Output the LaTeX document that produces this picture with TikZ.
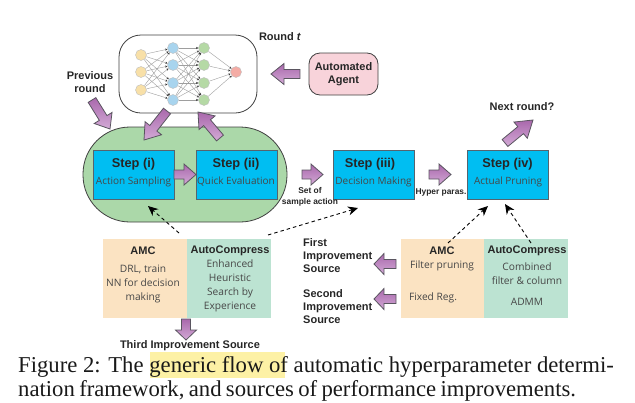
\documentclass[tikz,border=0pt]{standalone}
\usepackage{fontspec}
\setmainfont{Liberation Serif}
\setsansfont{Liberation Sans}
\newfontfamily\plainsans{Open Sans}
\usetikzlibrary{calc,arrows.meta}
\definecolor{purpA}{HTML}{A968AC}
\definecolor{purpB}{HTML}{D3AAD6}
\definecolor{arrowline}{HTML}{5A5560}
\definecolor{stepblue}{HTML}{00BEF2}
\definecolor{stepline}{HTML}{56646E}
\definecolor{pillgreen}{HTML}{ABD8A9}
\definecolor{tblorange}{HTML}{FBE3C2}
\definecolor{tblgreen}{HTML}{BCE3D2}
\definecolor{agentpink}{HTML}{F8D3DA}
\definecolor{hilite}{HTML}{FDF1A5}
\definecolor{inkdark}{HTML}{262626}
\definecolor{nnY}{HTML}{F8E0A8}
\definecolor{nnB}{HTML}{A8D4EE}
\definecolor{nnG}{HTML}{B5D9A5}
\definecolor{nnR}{HTML}{F4ACA5}
% block arrow from coordinate #2 to coordinate #3, head length #1
\newcommand{\blockarrow}[3][12pt]{%
  \path[blockstyle]
    ($(#2)!4.5pt!90:(#3)$) --
    ($($(#3)!#1!(#2)$)!4.5pt!90:(#3)$) --
    ($($(#3)!#1!(#2)$)!10.5pt!90:(#3)$) --
    (#3) --
    ($($(#3)!#1!(#2)$)!10.5pt!-90:(#3)$) --
    ($($(#3)!#1!(#2)$)!4.5pt!-90:(#3)$) --
    ($(#2)!4.5pt!-90:(#3)$) -- cycle;}
\tikzset{
  blockstyle/.style={draw=arrowline,line width=0.8pt,top color=purpA,bottom color=purpB},
  boldlabel/.style={font=\sffamily\bfseries\fontsize{11}{13}\selectfont,text=inkdark,align=center,inner sep=0pt},
  leftlabel/.style={boldlabel,align=left,anchor=west},
  smalllabel/.style={font=\sffamily\bfseries\fontsize{8.4}{11}\selectfont,text=inkdark,align=center,inner sep=0pt},
  stepbox/.style={draw=stepline,line width=1pt,fill=stepblue,minimum width=81pt,minimum height=49pt,inner sep=0pt},
  steptitle/.style={font=\sffamily\bfseries\fontsize{12.8}{15}\selectfont,text=inkdark,inner sep=0pt},
  stepsub/.style={font=\plainsans\fontsize{10}{12}\selectfont,text=inkdark!85,inner sep=0pt},
  tblcell/.style={minimum width=84pt,minimum height=79pt,inner sep=0pt},
  tbltext/.style={font=\plainsans\fontsize{10.2}{14}\selectfont,text=inkdark!85,align=center,inner sep=0pt},
  nncircle/.style={circle,draw=black!25,line width=0.4pt,minimum size=11pt,inner sep=0pt},
  nnedge/.style={draw=black!38,line width=0.4pt,-{Stealth[length=2.2pt,width=2.2pt,black!80]},shorten >=0pt},
  dashedarrow/.style={draw=black,line width=0.9pt,dashed,dash pattern=on 3.5pt off 3pt,-{Stealth[length=10pt,width=9pt]}},
  captionline/.style={font=\rmfamily\fontsize{22.7}{24}\selectfont,text=black!90,anchor=base west,inner sep=0pt}
}
\begin{document}
\begin{tikzpicture}[x=1pt,y=-1pt]
\useasboundingbox (0,0) rectangle (635,402);
% highlight
\node[fill=hilite,minimum width=135pt,minimum height=26pt,inner sep=0pt] (hl) at (217.5,365) {};
% pill and NN frame
\node[draw=black!75,line width=0.8pt,fill=pillgreen,rounded corners=47pt,minimum width=204pt,minimum height=95pt,inner sep=0pt] (pill) at (185,174.5) {};
\node[draw=black!75,line width=0.8pt,fill=white,rounded corners=22pt,minimum width=138pt,minimum height=78pt,inner sep=0pt] (nnbox) at (188,74) {};
% neural net
\foreach \i/\y in {1/55,2/72,3/90} \node[nncircle,fill=nnY] (a\i) at (141,\y) {};
\foreach \i/\y in {1/48,2/65,3/83,4/100} {
  \node[nncircle,fill=nnB] (b\i) at (173,\y) {};
  \node[nncircle,fill=nnG] (c\i) at (204,\y) {};
}
\node[nncircle,fill=nnR] (d) at (236,72) {};
\foreach \i in {1,2,3} \foreach \j in {1,2,3,4} \draw[nnedge] (a\i) -- (b\j);
\foreach \i in {1,2,3,4} \foreach \j in {1,2,3,4} \draw[nnedge] (b\i) -- (c\j);
\foreach \i in {1,2,3,4} \draw[nnedge] (c\i) -- (d);
% labels top
\node[boldlabel] (roundt) at (280,37) {Round \textit{t}};
\node[draw=black!75,line width=0.8pt,fill=agentpink,rounded corners=11pt,minimum width=69pt,minimum height=42pt,boldlabel] (agent) at (343.5,74) {Automated\\Agent};
\node[boldlabel] (prev) at (90,82) {Previous\\round};
\node[boldlabel] (next) at (522,107) {Next round?};
% steps
\node[stepbox] (s1) at (133.5,174.5) {};
\node[stepbox] (s2) at (236.5,174.5) {};
\node[stepbox] (s3) at (373.5,174.5) {};
\node[stepbox] (s4) at (508,174.5) {};
\node[steptitle] (s1t) at (133.5,164) {Step (i)};
\node[steptitle] (s2t) at (236,164) {Step (ii)};
\node[steptitle] (s3t) at (370,164) {Step (iii)};
\node[steptitle] (s4t) at (507.5,164) {Step (iv)};
\node[stepsub] (s1s) at (133.5,181.5) {Action Sampling};
\node[stepsub] (s2s) at (236,182) {Quick Evaluation};
\node[stepsub] (s3s) at (373.5,182) {Decision Making};
\node[stepsub] (s4s) at (508,182) {Actual Pruning};
\node[smalllabel] (setof) at (310,197) {Set of\\sample action};
\node[smalllabel] (hyper) at (441,192) {Hyper paras.};
% tables
\node[tblcell,fill=tblorange] (t1a) at (145,278.5) {};
\node[tblcell,fill=tblgreen] (t1b) at (229,278.5) {};
\node[tblcell,fill=tblorange] (t2a) at (442.5,278.5) {};
\node[tblcell,fill=tblgreen] (t2b) at (526,278.5) {};
\node[boldlabel] (t1at) at (143,251) {AMC};
\node[boldlabel] (t1bt) at (230,251) {AutoCompress};
\node[tbltext] (t1ax) at (143,284) {DRL, train\\NN for decision\\making};
\node[tbltext] (t1bx) at (230,286) {Enhanced\\Heuristic\\Search by\\Experience};
\node[boldlabel] (t2at) at (442,251) {AMC};
\node[boldlabel] (t2bt) at (527,251) {AutoCompress};
\node[tbltext] (t2ax) at (442,266) {Filter pruning};
\node[tbltext] (t2ay) at (433,298) {Fixed Reg.};
\node[tbltext] (t2bx) at (527,274) {Combined\\filter \& column};
\node[tbltext] (t2by) at (527,302) {ADMM};
\node[leftlabel] (first) at (303,256) {First\\Improvement\\Source};
\node[leftlabel] (second) at (303,307) {Second\\Improvement\\Source};
\node[boldlabel] (third) at (190,346) {Third Improvement Source};
% block arrows
\coordinate (agentL) at (300,74);  \coordinate (nnR) at (271,74);
\coordinate (prevA) at (92,100);   \coordinate (prevB) at (110,129);
\coordinate (nnDa) at (167,111);   \coordinate (nnDb) at (144,140);
\coordinate (upA) at (220,138);    \coordinate (upB) at (198,112);
\coordinate (sA) at (174,174.5);   \coordinate (sB) at (196,174.5);
\coordinate (tA) at (302,174.5);   \coordinate (tB) at (323,174.5);
\coordinate (uA) at (429,174.5);   \coordinate (uB) at (451,174.5);
\coordinate (nA) at (505,143);     \coordinate (nB) at (533,120);
\coordinate (fA) at (396,264);     \coordinate (fB) at (374,264);
\coordinate (gA) at (396,299);     \coordinate (gB) at (374,299);
\coordinate (dA) at (186,319);     \coordinate (dB) at (186,340);
\blockarrow[13pt]{agentL}{nnR}
\blockarrow[13pt]{prevA}{prevB}
\blockarrow[15pt]{nnDa}{nnDb}
\blockarrow[14pt]{upA}{upB}
\blockarrow{sA}{sB}
\blockarrow{tA}{tB}
\blockarrow{uA}{uB}
\blockarrow[16pt]{nA}{nB}
\blockarrow[10pt]{fA}{fB}
\blockarrow[10pt]{gA}{gB}
\blockarrow[10pt]{dA}{dB}
% dashed arrows
\coordinate (e1) at (179,233); \coordinate (e1b) at (148,206);
\coordinate (e2) at (268,235); \coordinate (e2b) at (358,208);
\coordinate (e3) at (448,243); \coordinate (e3b) at (488,206);
\coordinate (e4) at (531,243); \coordinate (e4b) at (505,204);
\draw[dashedarrow] (e1) -- (e1b);
\draw[dashedarrow] (e2) -- (e2b);
\draw[dashedarrow] (e3) -- (e3b);
\draw[dashedarrow] (e4) -- (e4b);
% caption
\node[captionline] (cap1) at (18,372) {Figure 2: The generic flow of automatic hyperparameter determi-};
\node[captionline] (cap2) at (18,396.5) {\spaceskip=0.19em\relax nation framework, and sources of performance improvements.};
\end{tikzpicture}
\end{document}
